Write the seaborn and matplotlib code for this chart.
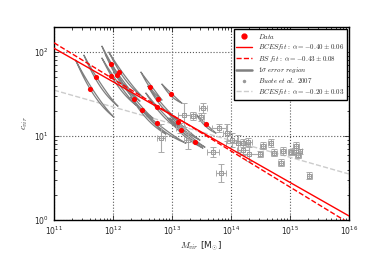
import numpy as np
import pandas as pd
import matplotlib
matplotlib.use("Agg")
import matplotlib.pyplot as plt
from matplotlib.lines import Line2D
import seaborn as sns

# lensing sample: log10 M_vir, log10 c_vir
data_logm = [11.61, 11.71, 11.966, 11.971, 12.073, 12.107, 12.361, 12.497, 12.622,
             12.768, 12.741, 12.983, 12.741, 13.107, 13.153, 13.390, 13.571]
data_logc = [1.556, 1.699, 1.857, 1.714, 1.726, 1.766, 1.444, 1.310, 1.583,
             1.437, 1.349, 1.508, 1.158, 1.170, 1.079, 0.932, 1.143]

# 1 sigma error regions: start and end of each banana (log10) and its bow (dex)
region_logm0 = [11.368, 11.508, 11.814, 11.814, 11.881, 11.932, 12.186, 12.305, 12.475,
                12.593, 12.559, 12.831, 12.492, 12.898, 12.932, 12.966, 13.407]
region_logc0 = [1.905, 1.964, 2.071, 1.929, 1.964, 2.000, 1.619, 1.464, 1.762,
                1.595, 1.512, 1.619, 1.310, 1.310, 1.214, 1.214, 1.262]
region_logm1 = [12.017, 12.085, 12.288, 12.390, 12.458, 12.508, 12.678, 12.898, 12.831,
                13.102, 13.169, 13.169, 13.237, 13.475, 13.525, 13.559, 13.746]
region_logc1 = [1.226, 1.357, 1.500, 1.369, 1.417, 1.464, 1.214, 1.024, 1.429,
                1.190, 1.060, 1.393, 0.917, 0.952, 0.857, 0.869, 1.036]
region_bow = [0.07, 0.06, 0.04, 0.05, 0.05, 0.05, 0.04, 0.04, 0.02,
              0.04, 0.04, 0.02, 0.04, 0.03, 0.03, 0.03, 0.02]

# Buote et al. 2007 (log10 values and errors in dex)
buote_logm = [12.81, 13.20, 13.36, 13.50, 13.53, 13.80, 13.93, 14.02, 14.12, 14.21,
              14.21, 14.29, 14.31, 13.83, 14.54, 14.50, 14.67, 14.73, 14.88, 14.84,
              15.01, 15.10, 15.06, 15.14, 15.17, 15.33, 13.70, 13.14, 13.27]
buote_logc = [0.98, 1.25, 1.238, 1.23, 1.34, 1.099, 1.04, 0.952, 0.913, 0.92,
              0.833, 0.932, 0.786, 0.563, 0.885, 0.786, 0.92, 0.804, 0.821, 0.682,
              0.81, 0.881, 0.813, 0.774, 0.82, 0.527, 0.813, 1.095, 0.952]
buote_dlogm = [0.07, 0.10, 0.05, 0.05, 0.07, 0.12, 0.06, 0.08, 0.20, 0.05,
               0.10, 0.07, 0.15, 0.08, 0.05, 0.04, 0.05, 0.05, 0.05, 0.05,
               0.04, 0.05, 0.04, 0.05, 0.04, 0.05, 0.10, 0.08, 0.07]
buote_dlogc = [0.17, 0.14, 0.05, 0.05, 0.06, 0.05, 0.10, 0.08, 0.10, 0.05,
               0.06, 0.05, 0.08, 0.11, 0.04, 0.04, 0.05, 0.04, 0.05, 0.04,
               0.04, 0.05, 0.04, 0.04, 0.03, 0.04, 0.06, 0.06, 0.10]

# fits c = norm * (M / 1e12)^slope
bces_norm, bces_slope = 44.5, -0.40
bs_norm, bs_slope = 48.2, -0.43
buote_norm, buote_slope = 22.3, -0.20

labels = [r'$Data$',
          r'$BCES fit:\ \alpha=-0.40\pm0.06$',
          r'$BS\ fit:\ \alpha=-0.43\pm0.08$',
          r'$1\sigma\ error\ region$',
          r'$Buote\ et\ al.\ 2007$',
          r'$BCES fit:\ \alpha=-0.20\pm0.03$']

sns.set_style("ticks")
plt.rcParams['font.family'] = ['DejaVu Sans']
plt.rcParams['mathtext.fontset'] = 'cm'
plt.rcParams['xtick.direction'] = 'in'
plt.rcParams['ytick.direction'] = 'in'

PX_X, PX_Y = 59.0, 84.0  # pixels per decade, keeps the banana width even


def region_outline(m0, c0, m1, c1, bow, half_width=1.0, n=60):
    t = np.linspace(0, 1, n)
    xs = m0 + (m1 - m0) * t
    ys = c0 + (c1 - c0) * t - bow * 4 * t * (1 - t)
    px, py = xs * PX_X, ys * PX_Y
    dx, dy = np.gradient(px), np.gradient(py)
    nrm = np.hypot(dx, dy)
    nx, ny = -dy / nrm, dx / nrm
    off = half_width * np.sin(np.pi * t)
    um, uc = (px + nx * off) / PX_X, (py + ny * off) / PX_Y
    lm, lc = (px - nx * off) / PX_X, (py - ny * off) / PX_Y
    return (np.concatenate([um, lm[::-1], um[:1]]),
            np.concatenate([uc, lc[::-1], uc[:1]]))


rows = []
for i in range(len(region_logm0)):
    lm, lc = region_outline(region_logm0[i], region_logc0[i],
                            region_logm1[i], region_logc1[i], region_bow[i])
    for a, b in zip(lm, lc):
        rows.append({'region': i, 'M': 10 ** a, 'c': 10 ** b})
regions = pd.DataFrame(rows)

fig = plt.figure(figsize=(3.87, 2.66), dpi=100)
ax = fig.add_axes([0.1395, 0.1729, 0.7623, 0.7256])
ax.set_xscale('log')
ax.set_yscale('log')

m_grid = np.logspace(11, 16, 50)
sns.lineplot(x=m_grid, y=buote_norm * (m_grid / 1e12) ** buote_slope, ax=ax,
             color='#cccccc', lw=1, linestyle='--', zorder=1)

sns.lineplot(data=regions, x='M', y='c', units='region', estimator=None, sort=False,
             ax=ax, color='#808080', lw=0.9, zorder=2)

bm = 10 ** np.array(buote_logm)
bc = 10 ** np.array(buote_logc)
dm = np.array(buote_dlogm)
dc = np.array(buote_dlogc)
ax.errorbar(bm, bc, xerr=[bm - bm * 10 ** -dm, bm * 10 ** dm - bm],
            yerr=[bc - bc * 10 ** -dc, bc * 10 ** dc - bc],
            fmt='s', ms=3.5, mfc='none', mec='#999999', ecolor='#aaaaaa',
            elinewidth=0.8, capsize=2, capthick=0.8, mew=0.7, zorder=3)

sns.lineplot(x=m_grid, y=bces_norm * (m_grid / 1e12) ** bces_slope, ax=ax,
             color='red', lw=1, zorder=4)
sns.lineplot(x=m_grid, y=bs_norm * (m_grid / 1e12) ** bs_slope, ax=ax,
             color='red', lw=1, linestyle='--', zorder=4)

sns.scatterplot(x=10 ** np.array(data_logm), y=10 ** np.array(data_logc), ax=ax,
                color='red', s=14, linewidth=0, zorder=5)

ax.set_xlim(1e11, 1e16)
ax.set_ylim(1, 200)
ax.grid(True, which='major', color='0.35', linestyle=':', linewidth=0.8)
ax.tick_params(which='both', top=True, right=True, labelsize=5.5, width=0.6)
ax.tick_params(which='major', length=3.5)
ax.tick_params(which='minor', length=1.8)
for sp in ax.spines.values():
    sp.set_linewidth(1.0)
    sp.set_color('black')

ax.set_xlabel(r'$M_{vir}$ [M$_{\odot}$]', fontsize=6.5, labelpad=2)
ax.set_ylabel(r'$c_{vir}$', fontsize=6.5, labelpad=3)

handles = [Line2D([], [], marker='o', color='red', ls='none', ms=3.5),
           Line2D([], [], color='red', lw=1),
           Line2D([], [], color='red', lw=1, ls='--'),
           Line2D([], [], color='#808080', lw=1.8),
           Line2D([], [], marker='o', color='#999999', ls='none', ms=1.5),
           Line2D([], [], color='#cccccc', lw=1, ls='--')]
leg = ax.legend(handles, labels, loc='upper right', fontsize=5, numpoints=1,
                fancybox=False, framealpha=1, edgecolor='black',
                borderaxespad=0.3, handlelength=2.2, handletextpad=0.9,
                labelspacing=0.2, borderpad=0.4)
leg.get_frame().set_linewidth(1.0)

fig.savefig('out.png', dpi=100)
